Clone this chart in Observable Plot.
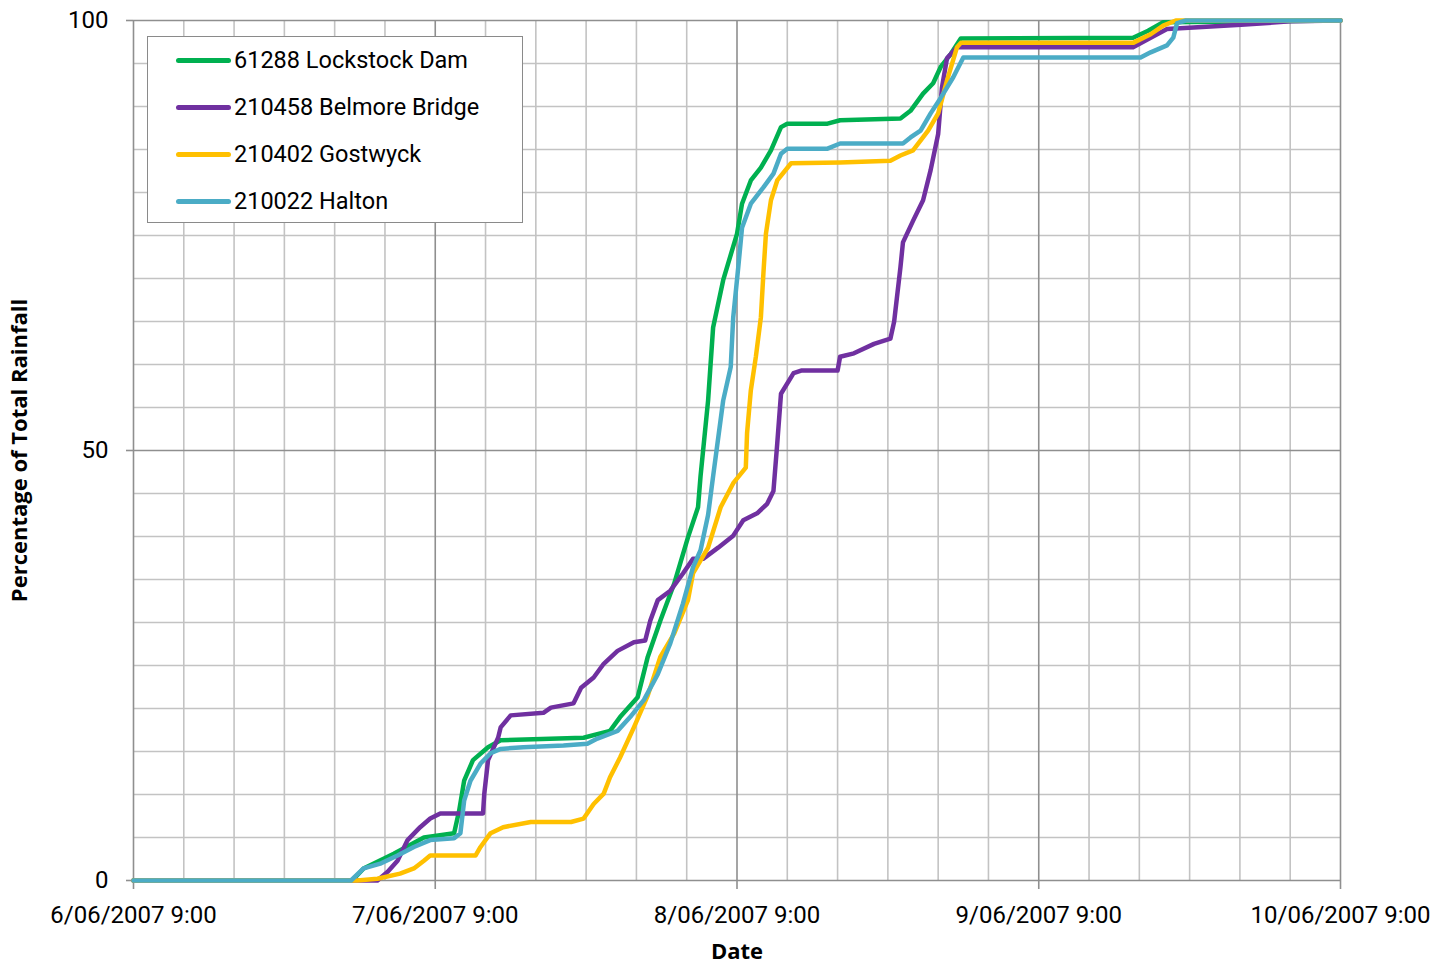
<!DOCTYPE html>
<html>
<head>
<meta charset="utf-8">
<script src="https://cdn.jsdelivr.net/npm/d3@7"></script>
<script src="https://cdn.jsdelivr.net/npm/@observablehq/plot@0.6"></script>
<style>
  html, body { margin: 0; padding: 0; background: #fff; }
  #wrap { position: relative; width: 1451px; height: 966px; overflow: hidden; }
  #legend {
    position: absolute; left: 147px; top: 36px; width: 376px; height: 187px;
    box-sizing: border-box; border: 1.5px solid #8a8a8a; background: #fff;
    font-family: Roboto, "Open Sans", sans-serif; font-size: 23.5px; color: #000;
  }
  .item { position: absolute; left: 28px; height: 30px; display: flex; align-items: center; }
  .sw { width: 55px; height: 5px; border-radius: 3px; margin-right: 3px; }
</style>
</head>
<body>
<div id="wrap"><div id="legend"></div></div>
<script>
// Series names and colours
const stations = ["61288 Lockstock Dam", "210458 Belmore Bridge", "210402 Gostwyck", "210022 Halton"];
const colors = ["#00B050", "#7030A0", "#FFC000", "#4BACC6"];

// Hours since 6/06/2007 9:00, and cumulative percentage of total rainfall
const lockstockHours = [0, 17.4, 18.3, 20.7, 23.1, 25.5, 25.9, 26.3, 27.0, 28.2, 29.2, 35.8, 37.9, 38.7, 40.1, 40.9, 41.9, 43.0, 44.1, 44.9, 45.1, 45.7, 46.1, 46.9, 48.0, 48.4, 49.1, 49.9, 50.7, 51.5, 52.0, 55.2, 56.2, 61.0, 61.8, 62.8, 63.6, 64.2, 65.0, 65.8, 79.5, 80.7, 81.9, 96];
const lockstockPct   = [0, 0, 1.4, 3.1, 5.0, 5.5, 8.1, 11.6, 14.0, 15.5, 16.3, 16.6, 17.4, 19.0, 21.3, 26.0, 30.2, 34.5, 39.9, 43.4, 47.0, 55.8, 64.3, 69.8, 75.2, 78.7, 81.4, 82.9, 84.9, 87.6, 88.0, 88.0, 88.4, 88.6, 89.5, 91.5, 92.7, 94.6, 96.1, 97.9, 98.0, 98.8, 99.8, 100];

const belmoreHours = [0, 19.4, 20.2, 21.0, 21.8, 22.8, 23.6, 24.4, 27.8, 27.9, 28.2, 29.0, 29.2, 30.0, 32.6, 33.2, 35.0, 35.6, 36.6, 37.4, 38.5, 39.8, 40.7, 41.1, 41.7, 42.7, 43.7, 44.5, 45.3, 46.5, 47.7, 48.5, 49.6, 50.4, 50.9, 51.2, 51.5, 52.5, 53.1, 56.0, 56.2, 57.3, 58.9, 60.2, 60.5, 61.0, 61.2, 62.0, 62.8, 63.4, 64.0, 64.3, 64.7, 65.5, 79.5, 80.9, 82.2, 84.3, 88.1, 92.0, 96];
const belmorePct   = [0, 0, 1.0, 2.3, 4.7, 6.2, 7.2, 7.8, 7.8, 10.1, 14.0, 16.6, 17.8, 19.2, 19.5, 20.1, 20.6, 22.4, 23.6, 25.2, 26.7, 27.7, 27.9, 30.2, 32.6, 33.7, 35.7, 37.4, 37.4, 38.7, 40.1, 41.9, 42.7, 43.8, 45.3, 50.8, 56.6, 59.0, 59.3, 59.3, 60.9, 61.3, 62.4, 63.0, 65.0, 71.3, 74.2, 76.7, 79.1, 82.6, 86.8, 92.2, 95.6, 96.9, 96.9, 98.0, 99.0, 99.2, 99.5, 99.9, 100];

const gostwyckHours = [0, 17.8, 19.4, 21.2, 22.3, 23.1, 23.6, 27.2, 27.6, 28.4, 29.4, 31.6, 34.8, 35.8, 36.6, 37.4, 37.9, 38.7, 39.8, 40.9, 41.9, 43.0, 44.1, 44.5, 45.7, 46.7, 47.7, 48.7, 48.8, 49.1, 49.5, 49.9, 50.1, 50.3, 50.7, 51.2, 52.3, 56.2, 60.2, 61.0, 62.0, 63.2, 64.0, 64.7, 65.5, 65.8, 79.5, 80.9, 81.9, 82.9, 96];
const gostwyckPct   = [0, 0, 0.2, 0.8, 1.4, 2.3, 2.9, 2.9, 3.9, 5.5, 6.2, 6.8, 6.8, 7.2, 8.9, 10.1, 12.0, 14.3, 17.8, 21.5, 26.0, 28.7, 32.6, 35.7, 38.7, 43.4, 46.2, 48.0, 52.0, 57.0, 60.9, 65.5, 70.6, 75.2, 79.1, 81.4, 83.4, 83.5, 83.7, 84.3, 84.9, 87.2, 89.2, 93.0, 96.9, 97.4, 97.4, 98.4, 99.4, 100, 100];

const haltonHours = [0, 17.3, 18.3, 19.7, 21.0, 22.3, 23.6, 25.5, 26.0, 26.3, 26.8, 27.6, 28.4, 29.2, 31.0, 34.2, 36.1, 36.9, 38.5, 39.5, 40.6, 41.7, 42.7, 43.7, 44.5, 45.1, 45.7, 46.1, 46.9, 47.5, 47.7, 48.1, 48.4, 49.1, 50.1, 50.9, 51.5, 52.0, 55.2, 56.2, 61.2, 61.8, 62.6, 63.4, 64.2, 65.2, 66.0, 80.1, 80.9, 82.2, 82.7, 83.0, 83.7, 96];
const haltonPct   = [0, 0, 1.4, 2.0, 2.9, 3.9, 4.7, 4.9, 5.5, 9.3, 11.6, 13.6, 14.8, 15.3, 15.5, 15.7, 15.9, 16.5, 17.4, 19.0, 21.0, 24.0, 27.6, 32.2, 36.4, 38.4, 42.5, 47.0, 55.8, 59.7, 65.5, 71.3, 75.9, 78.7, 80.6, 82.2, 84.5, 85.1, 85.1, 85.7, 85.7, 86.4, 87.2, 89.2, 91.0, 93.4, 95.7, 95.7, 96.3, 97.1, 98.0, 99.7, 100, 100];

// Axis ticks (hours since start)
const dayTickHours = [0, 24, 48, 72, 96];
const gridStepHours = 4;
const yLabelTicks = [0, 50, 100];
const yGridStep = 5;

const start = Date.UTC(2007, 5, 6, 9);
const toDate = h => new Date(start + h * 3600e3);
const fmt = d3.utcFormat("%-d/%m/%Y %-H:%M");

const hoursArr = [lockstockHours, belmoreHours, gostwyckHours, haltonHours];
const pctArr = [lockstockPct, belmorePct, gostwyckPct, haltonPct];
const data = stations.flatMap((s, i) => hoursArr[i].map((h, j) => ({station: s, t: toDate(h), v: pctArr[i][j]})));

const minorX = d3.range(0, 96 + 1, gridStepHours).filter(h => !dayTickHours.includes(h)).map(toDate);
const majorX = dayTickHours.map(toDate);
const minorY = d3.range(0, 101, yGridStep).filter(v => !yLabelTicks.includes(v));

const chart = Plot.plot({
  width: 1451, height: 966,
  marginLeft: 133, marginRight: 111, marginTop: 20, marginBottom: 86,
  style: {fontFamily: "Roboto, 'Open Sans', sans-serif", fontSize: "24px", color: "#000", background: "#fff", overflow: "visible"},
  x: {type: "utc", domain: [toDate(0), toDate(96)]},
  y: {domain: [0, 100]},
  color: {domain: stations, range: colors},
  marks: [
    Plot.ruleX(minorX, {stroke: "#c3c3c3", strokeWidth: 1.6}),
    Plot.ruleY(minorY, {stroke: "#c3c3c3", strokeWidth: 1.6}),
    Plot.ruleX(majorX, {stroke: "#8f8f8f", strokeWidth: 1.6}),
    Plot.ruleY(yLabelTicks, {stroke: "#8f8f8f", strokeWidth: 1.6}),
    Plot.axisX({ticks: majorX, tickFormat: fmt, tickSize: 9, tickPadding: 16, stroke: "#8f8f8f", strokeWidth: 1.6,
      label: "Date", labelAnchor: "center", labelArrow: "none", labelOffset: 78, fontSize: 24}),
    Plot.axisY({ticks: yLabelTicks, tickSize: 7, tickPadding: 18, stroke: "#8f8f8f", strokeWidth: 1.6,
      label: "Percentage of Total Rainfall", labelAnchor: "center", labelArrow: "none", labelOffset: 122, fontSize: 24}),
    Plot.line(data, {x: "t", y: "v", z: "station", stroke: "station", strokeWidth: 4.5, strokeLinejoin: "round", strokeLinecap: "round"})
  ]
});

// Bold Open Sans axis titles
chart.querySelectorAll("[aria-label='x-axis label'] text, [aria-label='y-axis label'] text").forEach(t => {
  t.setAttribute("font-weight", "bold");
  t.setAttribute("font-family", "'Open Sans', sans-serif");
  t.setAttribute("font-size", "22");
});
document.getElementById("wrap").prepend(chart);
chart.style.position = "absolute"; chart.style.left = "0"; chart.style.top = "0";

const legend = document.getElementById("legend");
stations.forEach((s, i) => {
  const item = document.createElement("div");
  item.className = "item";
  item.style.top = (8 + i * 47) + "px";
  const sw = document.createElement("div");
  sw.className = "sw"; sw.style.background = colors[i];
  const label = document.createElement("span");
  label.textContent = s;
  item.append(sw, label);
  legend.append(item);
});
</script>
</body>
</html>
